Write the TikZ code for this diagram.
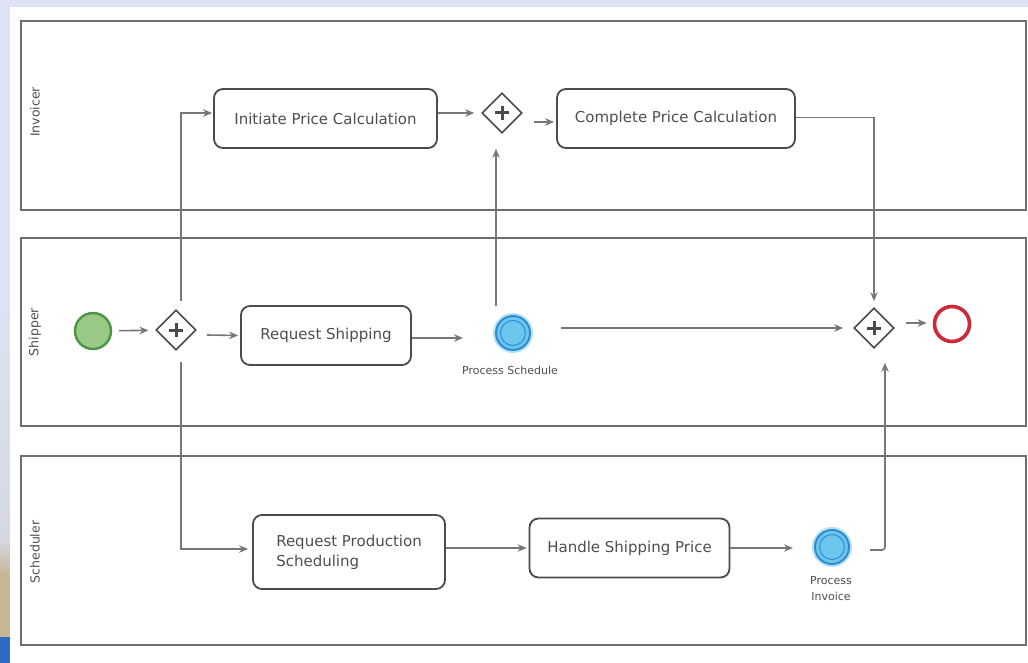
\documentclass[tikz,border=0pt]{standalone}
\usepackage{fontspec}
\setmainfont{DejaVu Sans}
\usetikzlibrary{shapes.geometric,arrows.meta}

\definecolor{pagebg}{HTML}{DDE3F4}
\definecolor{stripgray}{HTML}{D5D8E0}
\definecolor{striptan}{HTML}{C6B696}
\definecolor{stripblue}{HTML}{2C6CC2}
\definecolor{lanegray}{HTML}{6F6F6F}
\definecolor{edgegray}{HTML}{4B4B4B}
\definecolor{flowgray}{HTML}{777777}
\definecolor{txtgray}{HTML}{4E4E4E}
\definecolor{startfill}{HTML}{98C985}
\definecolor{startedge}{HTML}{4A9646}
\definecolor{endred}{HTML}{CF2838}
\definecolor{evhalo}{HTML}{B3E2F7}
\definecolor{evfill}{HTML}{6CC6EE}
\definecolor{evedge}{HTML}{2F8DCF}

\tikzset{
  lane/.style={draw=lanegray, line width=1.7pt},
  lanelabel/.style={rotate=90, text=txtgray, font=\fontsize{12.5}{15}\selectfont},
  task/.style={draw=edgegray, line width=1.8pt, rounded corners=9pt, fill=white,
    text=txtgray, font=\fontsize{15}{20}\selectfont, inner sep=0pt, align=left},
  gateway/.style={diamond, draw=edgegray, line width=1.6pt, fill=white,
    minimum width=40pt, minimum height=40pt, inner sep=0pt,
    path picture={
      \draw[edgegray, line width=3pt]
        ([xshift=-7pt]path picture bounding box.center) -- ([xshift=7pt]path picture bounding box.center)
        ([yshift=-7pt]path picture bounding box.center) -- ([yshift=7pt]path picture bounding box.center);}},
  startev/.style={circle, draw=startedge, line width=2.4pt, fill=startfill,
    minimum size=36pt, inner sep=0pt},
  endev/.style={circle, draw=endred, line width=3.6pt, fill=white,
    minimum size=35pt, inner sep=0pt},
  midev/.style={circle, draw=evedge, line width=2pt, fill=evfill,
    minimum size=34pt, inner sep=0pt,
    path picture={
      \draw[evedge, line width=1pt] (path picture bounding box.center) circle (12.5pt);}},
  evlabel/.style={text=txtgray, font=\fontsize{11}{16}\selectfont, align=center},
  flow/.style={draw=flowgray, line width=1.6pt,
    -{Stealth[length=9pt, width=7.5pt]}},
}

\begin{document}
\begin{tikzpicture}[x=1pt, y=-1pt]
\useasboundingbox (0,0) rectangle (1028,663);

% window backdrop
\fill[pagebg] (0,0) rectangle (1028,663);
\shade[top color=pagebg, bottom color=stripgray] (0,300) rectangle (10,540);
\shade[top color=stripgray, bottom color=striptan] (0,540) rectangle (10,575);
\fill[striptan] (0,575) rectangle (10,637);
\fill[stripblue] (0,637) rectangle (10,663);
\fill[white] (10,7) rectangle (1028,663);

% swim lanes
\draw[lane] (21,21) rectangle (1026,210);
\draw[lane] (21,238) rectangle (1026,426);
\draw[lane] (21,456) rectangle (1026,645);
\node[lanelabel] (lInv) at (35,112) {Invoicer};
\node[lanelabel] (lShip) at (35,332) {Shipper};
\node[lanelabel] (lSched) at (35,552) {Scheduler};

% Invoicer lane
\node[task, minimum width=223pt, minimum height=59pt] (init) at (325.5,118.5) {Initiate Price Calculation};
\node[gateway] (gw1) at (502,113) {};
\node[task, minimum width=238pt, minimum height=59pt] (complete) at (676,118.5) {Complete Price Calculation};

% Shipper lane
\node[startev] (start) at (93,331) {};
\node[gateway] (split) at (176,330) {};
\node[task, minimum width=170pt, minimum height=59pt] (reqship) at (326,335.5) {Request Shipping};
\fill[evhalo] (513,333) circle (20pt);
\node[midev] (psched) at (513,333) {};
\node[evlabel] (lpsched) at (510,370) {Process Schedule};
\node[gateway] (join) at (874,328) {};
\node[endev] (finish) at (952,324) {};

% Scheduler lane
\node[task, minimum width=192pt, minimum height=74pt] (reqprod) at (349,552) {Request Production\\Scheduling};
\node[task, minimum width=200pt, minimum height=59pt] (handle) at (629.5,548) {Handle Shipping Price};
\fill[evhalo] (832,547) circle (20pt);
\node[midev] (pinv) at (832,547) {};
\node[evlabel] (lpinv) at (831,588.5) {Process\\Invoice};

% sequence flows
\draw[flow, shorten <=7pt, shorten >=7pt] (start) -- (split);
\draw[flow] ([xshift=5pt,yshift=8pt]split.north) |- ([xshift=-1pt,yshift=5.5pt]init.west);
\draw[flow] ([xshift=5pt,yshift=-11pt]split.south) |- ([xshift=-4pt,yshift=3pt]reqprod.west);
\draw[flow] ([xshift=10pt,yshift=-5pt]split.east) -- ([xshift=-2pt]reqship.west);
\draw[flow] ([yshift=5.5pt]init.east) -- ([xshift=-7pt]gw1.west);
\draw[flow] ([xshift=11pt,yshift=-9pt]gw1.east) -- ([xshift=-2pt,yshift=-3.5pt]complete.west);
\draw[flow] ([yshift=1pt]complete.east) -| ([yshift=6pt]join.north);
\draw[flow] ([yshift=-2.5pt]reqship.east) -- ([xshift=-32pt,yshift=-5pt]psched.west);
\draw[flow] ([xshift=-17pt,yshift=9pt]psched.north) -- ([xshift=-6pt,yshift=-15pt]gw1.south);
\draw[flow] ([xshift=30pt,yshift=5pt]psched.east) -- ([xshift=-10pt]join.west);
\draw[flow] ([xshift=11pt,yshift=5pt]join.east) -- ([xshift=-6pt,yshift=1pt]finish.west);
\draw[flow] ([yshift=4pt]reqprod.east) -- ([xshift=-2pt]handle.west);
\draw[flow] (handle.east) -- ([xshift=-21pt,yshift=-1pt]pinv.west);
\draw[flow, rounded corners=3pt] ([xshift=20pt,yshift=-3pt]pinv.east) -| ([xshift=11pt,yshift=-14pt]join.south);
\end{tikzpicture}
\end{document}
